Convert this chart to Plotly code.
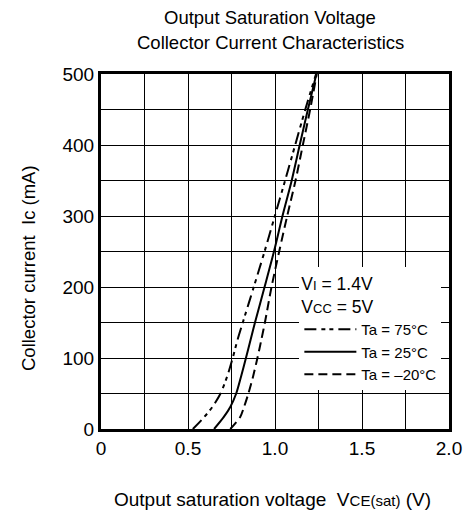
import plotly.graph_objects as go

# Output saturation voltage VCE(sat) (V) vs collector current Ic (mA)
ic_levels = [0, 17, 31, 50, 74, 100, 125, 150, 200, 250, 300, 350, 400, 450, 500]
vce_75 = [0.528, 0.594, 0.640, 0.687, 0.725, 0.757, 0.784, 0.815, 0.878, 0.940, 0.999, 1.058, 1.116, 1.174, 1.236]
vce_25 = [0.650, 0.706, 0.743, 0.777, 0.805, 0.833, 0.859, 0.885, 0.940, 0.994, 1.043, 1.096, 1.142, 1.189, 1.238]
vce_m20 = [0.743, 0.800, 0.822, 0.847, 0.874, 0.899, 0.921, 0.942, 0.980, 1.024, 1.070, 1.118, 1.160, 1.202, 1.240]

series_names = ["Ta = 75°C", "Ta = 25°C", "Ta = –20°C"]
x_ticks = [0, 0.5, 1.0, 1.5, 2.0]
x_tick_labels = ["0", "0.5", "1.0", "1.5", "2.0"]
y_ticks = [0, 100, 200, 300, 400, 500]

FONT = "Liberation Sans, Arial, sans-serif"

fig = go.Figure()
styles = [
    "12px,5px,4px,4px,4px,5px",
    "solid",
    "9px,5px",
]
for xs, name, dash in zip([vce_75, vce_25, vce_m20], series_names, styles):
    fig.add_trace(go.Scatter(
        x=xs, y=ic_levels, name=name, mode="lines",
        line=dict(color="black", width=2, dash=dash, shape="spline", smoothing=0.8),
        hoverinfo="skip",
    ))

fig.update_layout(
    width=474, height=513,
    margin=dict(l=101, r=17, t=74, b=84),
    paper_bgcolor="white", plot_bgcolor="white",
    font=dict(family=FONT, color="black", size=15),
    showlegend=True,
    legend=dict(
        x=0.57, y=0.455, xanchor="left", yanchor="top",
        bgcolor="white", borderwidth=0,
        font=dict(size=15, family=FONT, color="black"),
        itemwidth=52,
        tracegroupgap=0,
        title=dict(
            text="V<span style='font-size:13px'>I</span> = 1.4V<br>V<span style='font-size:13px'>CC</span> = 5V",
            font=dict(size=17.5, family=FONT, color="black"),
            side="top",
        ),
    ),
    annotations=[
        dict(text="Output Saturation Voltage", xref="paper", yref="paper",
             x=0.486, y=1.0, yshift=57, showarrow=False, xanchor="center", yanchor="middle",
             font=dict(size=18.5, family=FONT, color="black")),
        dict(text="Collector Current Characteristics", xref="paper", yref="paper",
             x=0.486, y=1.0, yshift=32, showarrow=False, xanchor="center", yanchor="middle",
             font=dict(size=18.5, family=FONT, color="black")),
        dict(text="Collector current  Ic (mA)", xref="paper", yref="paper",
             x=0, xshift=-73, y=0.4535, showarrow=False, textangle=-90,
             xanchor="center", yanchor="middle",
             font=dict(size=18.5, family=FONT, color="black")),
        dict(text="Output saturation voltage  V<span style='font-size:15px'>CE(sat)</span> (V)",
             xref="paper", yref="paper",
             x=0.494, y=0, yshift=-70, showarrow=False, xanchor="center", yanchor="middle",
             font=dict(size=19, family=FONT, color="black")),
    ],
)

fig.update_xaxes(
    range=[0, 2.0], tickvals=x_ticks, ticktext=x_tick_labels,
    showgrid=True, gridcolor="black", gridwidth=1,
    minor=dict(dtick=0.25, showgrid=True, gridcolor="black", gridwidth=1),
    showline=True, linecolor="black", linewidth=3, mirror=True,
    ticks="", zeroline=False, tickfont=dict(size=19, family=FONT, color="black"),
)
fig.update_yaxes(
    range=[0, 500], tickvals=y_ticks,
    showgrid=True, gridcolor="black", gridwidth=1,
    minor=dict(dtick=50, showgrid=True, gridcolor="black", gridwidth=1),
    showline=True, linecolor="black", linewidth=3, mirror=True,
    ticks="", zeroline=False, tickfont=dict(size=19, family=FONT, color="black"),
)

fig.write_html("out.html", config={"displayModeBar": False},
               post_script="document.body.style.margin='0';")
